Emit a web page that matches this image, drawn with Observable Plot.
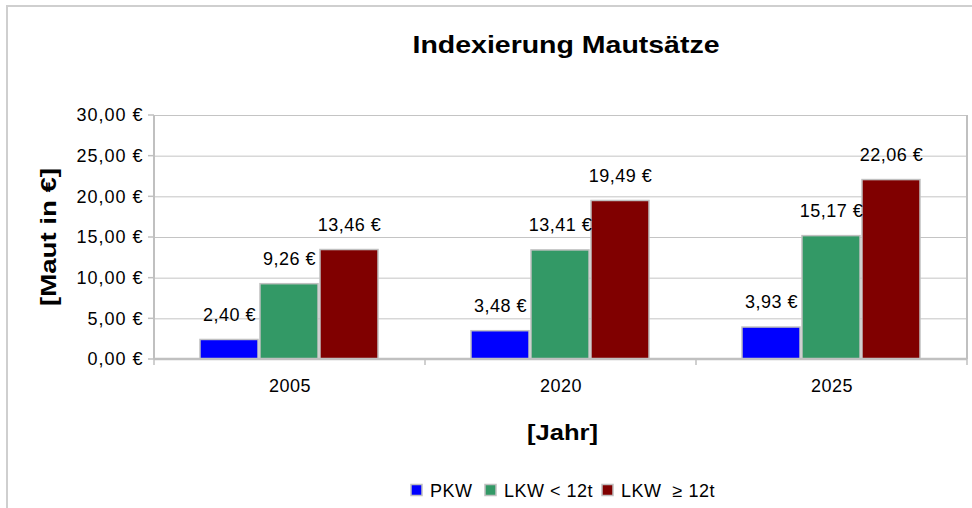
<!DOCTYPE html>
<html>
<head>
<meta charset="utf-8">
<script src="https://cdn.jsdelivr.net/npm/d3@7"></script>
<script src="https://cdn.jsdelivr.net/npm/@observablehq/plot@0.6"></script>
<style>
  html, body { margin: 0; padding: 0; background: #fff; }
  #chart { position: relative; width: 972px; height: 508px; overflow: hidden; }
  #frame { position: absolute; left: 6px; top: 5px; width: 980px; height: 520px; border: 2px solid #cfcfcf; box-sizing: border-box; pointer-events: none; }
</style>
</head>
<body>
<div id="chart"><div id="frame"></div></div>
<script>
const title = "Indexierung Mautsätze";
const yLabel = "[Maut in €]";
const xLabel = "[Jahr]";
const years = ["2005", "2020", "2025"];
const series = ["PKW", "LKW < 12t", "LKW  ≥ 12t"];
const pkw = [2.40, 3.48, 3.93];
const lkwSmall = [9.26, 13.41, 15.17];
const lkwBig = [13.46, 19.49, 22.06];
const yTicks = [0, 5, 10, 15, 20, 25, 30];
const colors = ["#0000ff", "#339966", "#800000"];

const values = [pkw, lkwSmall, lkwBig];
const data = years.flatMap((y, i) => series.map((s, j) => ({year: y, series: s, value: values[j][i]})));
const euro = v => v.toFixed(2).replace(".", ",") + " €";
const font = "'Liberation Sans', Arial, sans-serif";

const plot = Plot.plot({
  width: 972,
  height: 508,
  marginLeft: 153,
  marginRight: 4,
  marginTop: 115,
  marginBottom: 149,
  style: {fontFamily: font, fontSize: "18px", background: "transparent", color: "#000"},
  fx: {domain: years, padding: 0, label: null},
  x: {domain: series, paddingInner: 0.03, paddingOuter: 0.76, axis: null},
  y: {domain: [0, 30], label: null},
  color: {domain: series, range: colors},
  facet: {data, x: "year"},
  marks: [
    Plot.gridY(yTicks, {stroke: "#c4c4c4", strokeOpacity: 1}),
    Plot.axisY(yTicks, {tickFormat: euro, tickSize: 0, tickPadding: 11, fontSize: 18, label: null, fill: "#000"}),
    Plot.axisFx({anchor: "bottom", tickSize: 0, tickPadding: 20, fontSize: 18, label: null, fill: "#000"}),
    Plot.barY(data, {x: "series", y: "value", fill: "series", stroke: "#c0c0c0", strokeWidth: 1.5}),
    Plot.text(data, {x: "series", y: "value", text: d => euro(d.value), dy: -25, fontSize: 18, fill: "#000"})
  ]
});

const svg = d3.select(plot);
svg.style("position", "absolute").style("left", 0).style("top", 0);
svg.selectAll("text").style("letter-spacing", "0.5px");
svg.selectAll("[aria-label='y-axis tick label'] text").style("letter-spacing", "1px");

const y = plot.scale("y");
const fx = plot.scale("fx");
const y0 = y.apply(0), y30 = y.apply(30);
const left = fx.apply(years[0]);
const right = fx.apply(years[years.length - 1]) + fx.bandwidth;
const g = svg.append("g").attr("stroke", "#c0c0c0").attr("fill", "none");
// y axis line and ticks
g.append("line").attr("x1", left).attr("x2", left).attr("y1", y30).attr("y2", y0).attr("stroke-width", 2);
yTicks.forEach(t => g.append("line").attr("x1", left - 6).attr("x2", left).attr("y1", y.apply(t)).attr("y2", y.apply(t)).attr("stroke-width", 1.5));
// right frame line
g.append("line").attr("x1", right).attr("x2", right).attr("y1", y30).attr("y2", y0).attr("stroke-width", 2);
// baseline
g.append("line").attr("x1", left).attr("x2", right).attr("y1", y0).attr("y2", y0).attr("stroke-width", 2.5);
// category separators
years.forEach(yr => {
  const xx = fx.apply(yr);
  g.append("line").attr("x1", xx).attr("x2", xx).attr("y1", y0).attr("y2", y0 + 6).attr("stroke-width", 1.5);
});
g.append("line").attr("x1", right).attr("x2", right).attr("y1", y0).attr("y2", y0 + 6).attr("stroke-width", 1.5);

const tg = svg.append("g").attr("font-family", font).attr("fill", "#000").attr("text-anchor", "middle");
tg.append("text").attr("x", 566).attr("y", 53)
  .attr("font-size", 24).attr("font-weight", "bold")
  .attr("textLength", 307).attr("lengthAdjust", "spacingAndGlyphs").text(title);
tg.append("text").attr("transform", `translate(56,${(y0 + y30) / 2}) rotate(-90)`)
  .attr("font-size", 22).attr("font-weight", "bold")
  .attr("textLength", 138).attr("lengthAdjust", "spacingAndGlyphs").text(yLabel);
tg.append("text").attr("x", (left + right) / 2 + 2).attr("y", 440)
  .attr("font-size", 22).attr("font-weight", "bold")
  .attr("textLength", 71).attr("lengthAdjust", "spacingAndGlyphs").text(xLabel);

// legend
const legendX = [411, 485, 602];
const lg = svg.append("g").attr("font-family", font).attr("font-size", 18).attr("text-anchor", "start").attr("fill", "#000");
series.forEach((s, i) => {
  lg.append("rect").attr("x", legendX[i]).attr("y", 484.5).attr("width", 11).attr("height", 11)
    .attr("fill", colors[i]).attr("stroke", "#c0c0c0").attr("stroke-width", 1.5);
  lg.append("text").attr("x", legendX[i] + 19).attr("y", 497)
    .attr("xml:space", "preserve").style("white-space", "pre").style("letter-spacing", "0.5px").text(s);
});

document.getElementById("chart").appendChild(plot);
</script>
</body>
</html>
